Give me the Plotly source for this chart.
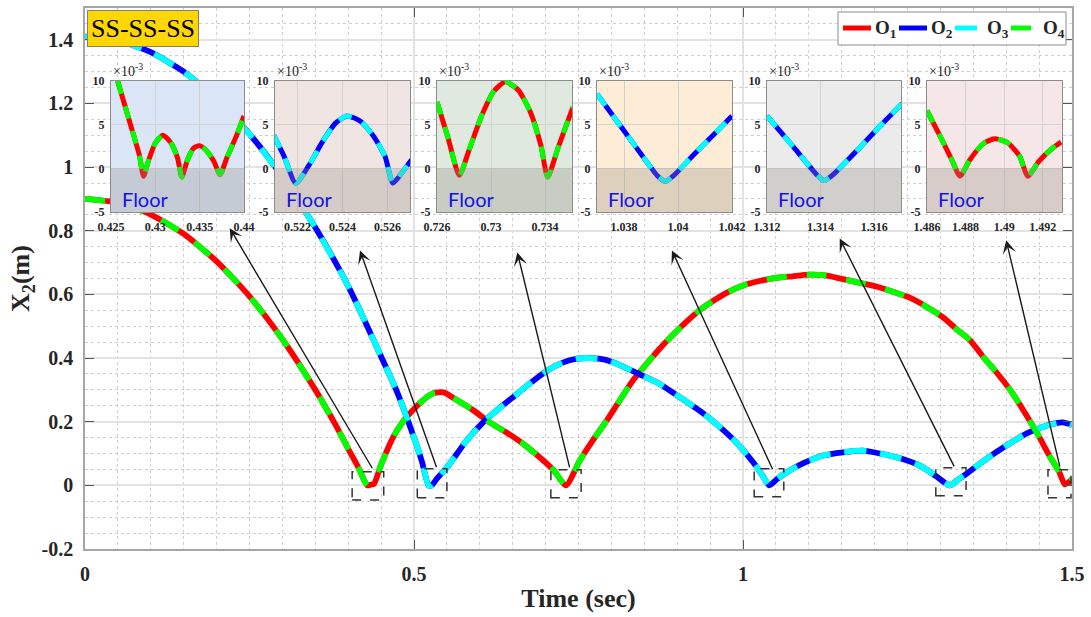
import plotly.graph_objects as go

# ---------------------------------------------------------------------------
# Vertical position X2 (m) of the four objects; O1/O4 move together and
# O2/O3 move together, so each pair shares one trajectory.
# ---------------------------------------------------------------------------
t_o14 = [0.000, 0.050, 0.100, 0.150, 0.200, 0.250, 0.300, 0.350, 0.380, 0.400,
         0.415, 0.429, 0.434, 0.439, 0.450, 0.468, 0.485, 0.500, 0.515, 0.530,
         0.545, 0.565, 0.590, 0.615, 0.640, 0.665, 0.690, 0.712, 0.731, 0.752,
         0.772, 0.793, 0.813, 0.833, 0.854, 0.874, 0.894, 0.915, 0.935, 0.955,
         0.975, 1.000, 1.025, 1.050, 1.075, 1.100, 1.125, 1.150, 1.178, 1.204,
         1.228, 1.254, 1.280, 1.304, 1.325, 1.345, 1.365, 1.386, 1.406, 1.426,
         1.447, 1.467, 1.480, 1.489, 1.495, 1.500]
x2_o14 = [0.900, 0.888, 0.851, 0.790, 0.704, 0.594, 0.459, 0.300, 0.193, 0.115,
          0.058, 0.000, 0.002, 0.004, 0.065, 0.150, 0.205, 0.240, 0.270, 0.290,
          0.292, 0.268, 0.236, 0.198, 0.167, 0.132, 0.090, 0.048, 0.000, 0.078,
          0.142, 0.204, 0.268, 0.330, 0.383, 0.431, 0.474, 0.516, 0.552, 0.580,
          0.605, 0.628, 0.642, 0.652, 0.657, 0.662, 0.660, 0.649, 0.636, 0.624,
          0.608, 0.589, 0.560, 0.528, 0.490, 0.456, 0.404, 0.353, 0.300, 0.236,
          0.164, 0.088, 0.045, 0.003, 0.010, 0.020]

t_o23 = [0.000, 0.050, 0.100, 0.150, 0.200, 0.250, 0.300, 0.350, 0.400, 0.450,
         0.475, 0.500, 0.512, 0.522, 0.527, 0.535, 0.550, 0.580, 0.605, 0.626,
         0.651, 0.676, 0.702, 0.725, 0.748, 0.768, 0.790, 0.813, 0.843, 0.874,
         0.904, 0.935, 0.965, 0.991, 1.016, 1.030, 1.040, 1.052, 1.064, 1.091,
         1.122, 1.152, 1.182, 1.208, 1.239, 1.269, 1.294, 1.314, 1.327, 1.340,
         1.371, 1.401, 1.432, 1.462, 1.486, 1.500]
x2_o23 = [1.410, 1.398, 1.361, 1.300, 1.214, 1.104, 0.969, 0.810, 0.626, 0.405,
          0.290, 0.150, 0.075, 0.000, 0.000, 0.022, 0.056, 0.141, 0.198, 0.236,
          0.278, 0.320, 0.360, 0.385, 0.398, 0.400, 0.395, 0.378, 0.349, 0.318,
          0.277, 0.233, 0.183, 0.132, 0.071, 0.030, 0.000, 0.020, 0.038, 0.069,
          0.094, 0.104, 0.109, 0.100, 0.085, 0.062, 0.028, 0.000, 0.018, 0.037,
          0.085, 0.126, 0.164, 0.188, 0.198, 0.190]

# Close-ups of the contact events (X2 in units of 1e-3 m)
zoom1_t = [0.42575, 0.4272, 0.4282, 0.42867, 0.4292, 0.4300, 0.43085, 0.4317,
           0.4325, 0.43299, 0.4336, 0.4343, 0.43497, 0.4357, 0.4366, 0.4373,
           0.4381, 0.4391, 0.4400]
zoom1_x2 = [10.0, 5.0, 1.5, -0.9, 0.8, 2.9, 3.8, 3.0, 1.2, -1.0, 0.9, 2.3, 2.6,
            2.1, 0.8, -0.7, 1.3, 3.6, 6.0]

zoom2_t = [0.52094, 0.5214, 0.52192, 0.5225, 0.5231, 0.5237, 0.5242, 0.5248,
           0.5254, 0.5259, 0.52624, 0.5267, 0.52707]
zoom2_x2 = [3.8, 1.4, -1.7, 0.3, 3.0, 5.2, 6.0, 5.4, 3.6, 1.3, -1.7, -0.3, 1.0]

zoom3_t = [0.7260, 0.7268, 0.72765, 0.7284, 0.7293, 0.7302, 0.73106, 0.7320,
           0.7329, 0.7337, 0.7342, 0.7350, 0.73607]
zoom3_x2 = [7.6, 3.6, -0.8, 2.2, 6.0, 8.8, 9.9, 9.0, 6.5, 2.6, -1.0, 2.5, 7.0]

zoom4_t = [1.0370, 1.0380, 1.0389, 1.03925, 1.03954, 1.03985, 1.0405, 1.0413,
           1.0420]
zoom4_x2 = [8.5, 4.3, 0.5, -0.9, -1.5, -0.8, 1.3, 3.8, 6.0]

zoom5_t = [1.3120, 1.3130, 1.31388, 1.31413, 1.31444, 1.3155, 1.3163, 1.31704]
zoom5_x2 = [6.0, 2.4, -0.8, -1.4, -0.8, 2.5, 5.1, 7.4]

zoom6_t = [1.4860, 1.4867, 1.4873, 1.48771, 1.4882, 1.4889, 1.48952, 1.4902,
           1.4908, 1.49123, 1.4918, 1.4925, 1.49295]
zoom6_x2 = [6.6, 3.6, 0.9, -0.9, 0.9, 2.8, 3.4, 2.9, 1.4, -0.9, 0.8, 2.3, 3.0]

# Axis ticks
main_xticks = [0, 0.5, 1, 1.5]
main_xlabels = ["0", "0.5", "1", "1.5"]
main_yticks = [-0.2, 0, 0.2, 0.4, 0.6, 0.8, 1.0, 1.2, 1.4]
main_ylabels = ["-0.2", "0", "0.2", "0.4", "0.6", "0.8", "1", "1.2", "1.4"]
zoom_yticks = [-5, 0, 5, 10]
zoom_ylabels = ["-5", "0", "5", "10"]

zoom_ranges = [(0.425, 0.440), (0.521, 0.527), (0.726, 0.736),
               (1.037, 1.042), (1.312, 1.317), (1.486, 1.493)]
zoom_xticks = [[0.425, 0.43, 0.435, 0.44], [0.522, 0.524, 0.526],
               [0.726, 0.73, 0.734], [1.038, 1.04, 1.042],
               [1.312, 1.314, 1.316], [1.486, 1.488, 1.49, 1.492]]
zoom_xlabels = [["0.425", "0.43", "0.435", "0.44"], ["0.522", "0.524", "0.526"],
                ["0.726", "0.73", "0.734"], ["1.038", "1.04", "1.042"],
                ["1.312", "1.314", "1.316"], ["1.486", "1.488", "1.49", "1.492"]]
zoom_series = [(zoom1_t, zoom1_x2, "14"), (zoom2_t, zoom2_x2, "23"),
               (zoom3_t, zoom3_x2, "14"), (zoom4_t, zoom4_x2, "23"),
               (zoom5_t, zoom5_x2, "23"), (zoom6_t, zoom6_x2, "14")]

# ---------------------------------------------------------------------------
# Styling / placement
# ---------------------------------------------------------------------------
RED, BLUE, CYAN, GREEN = "#ff0000", "#0000ff", "#00ffff", "#00ff00"
DASH_O3, DASH_O4 = "22px,14px", "20px,20px"
SERIF = "Liberation Serif"
INK = "#262626"

W, H = 1091, 617
M_L, M_R, M_T, M_B = 85, 19, 8, 68
PLOT_W, PLOT_H = W - M_L - M_R, H - M_T - M_B


def px_to_paper(px, py):
    return (px - M_L) / PLOT_W, (H - M_B - py) / PLOT_H


inset_bg = ["#dae6f6", "#f1e5e4", "#dfe9df", "#fdedd6", "#ebebeb", "#f5e7e7"]
inset_px_x = [(111, 244), (275, 410), (437, 572), (597, 732), (767, 901), (927, 1062)]
inset_px_y = (81, 212)

# dashed frames around contact events: (t0, t1, y0, y1)
event_frames = [(0.406, 0.454, -0.046, 0.043), (0.505, 0.550, -0.039, 0.052),
                (0.708, 0.754, -0.039, 0.049), (1.017, 1.062, -0.036, 0.052),
                (1.293, 1.339, -0.033, 0.055), (1.4635, 1.4985, -0.039, 0.049)]
# arrows: (head t, head y, tail t, tail y)
event_arrows = [(0.220, 0.808, 0.438, 0.049), (0.418, 0.738, 0.535, 0.052),
                (0.657, 0.732, 0.737, 0.052), (0.892, 0.738, 1.046, 0.046),
                (1.147, 0.776, 1.322, 0.055), (1.400, 0.770, 1.482, 0.055)]

fig = go.Figure()

spline = dict(shape="spline", smoothing=0.6)
legend_items = [("O<sub>1</sub>", RED, "solid"), ("O<sub>2</sub>", BLUE, "solid"),
                ("O<sub>3</sub>", CYAN, DASH_O3), ("O<sub>4</sub>", GREEN, DASH_O4)]
main_data = [(t_o14, x2_o14), (t_o23, x2_o23), (t_o23, x2_o23), (t_o14, x2_o14)]
for (name, color, dash), (ts, xs) in zip(legend_items, main_data):
    fig.add_trace(go.Scatter(x=ts, y=xs, mode="lines", name=name, showlegend=False,
                             line=dict(color=color, width=5.8, dash=dash, **spline)))

shapes = []
annotations = []
layout_axes = {}

for i, (ts, xs, pair) in enumerate(zoom_series):
    k = i + 2
    xa, ya = f"x{k}", f"y{k}"
    if pair == "14":
        base, over, dash = RED, GREEN, "13px,13px"
    else:
        base, over, dash = BLUE, CYAN, "14px,12px"
    fig.add_trace(go.Scatter(x=ts, y=xs, mode="lines", showlegend=False,
                             xaxis=xa, yaxis=ya,
                             line=dict(color=base, width=5, **spline)))
    fig.add_trace(go.Scatter(x=ts, y=xs, mode="lines", showlegend=False,
                             xaxis=xa, yaxis=ya,
                             line=dict(color=over, width=5, dash=dash, **spline)))
    r0, r1 = zoom_ranges[i]
    dx0, dy0 = px_to_paper(inset_px_x[i][0], inset_px_y[1])
    dx1, dy1 = px_to_paper(inset_px_x[i][1], inset_px_y[0])
    common = dict(showgrid=True, gridcolor="#d2d2d2", gridwidth=1, zeroline=False,
                  showline=True, mirror=True, linecolor="#8c8c8c", linewidth=1.3,
                  ticks="", ticklabelstandoff=3, fixedrange=True,
                  tickfont=dict(family=SERIF, size=12, color=INK, weight="bold"))
    layout_axes[f"xaxis{k}"] = dict(
        domain=[dx0, dx1], range=[r0, r1], anchor=ya,
        tickmode="array", tickvals=zoom_xticks[i], ticktext=zoom_xlabels[i], **common)
    layout_axes[f"yaxis{k}"] = dict(
        domain=[dy0, dy1], range=[-5, 10], anchor=xa,
        tickmode="array", tickvals=zoom_yticks, ticktext=zoom_ylabels, **common)
    # tinted panel
    shapes.append(dict(type="rect", xref=xa, yref=ya, x0=r0, x1=r1, y0=-5, y1=10,
                       fillcolor=inset_bg[i], line=dict(width=0), layer="below"))
    # floor region
    shapes.append(dict(type="rect", xref=xa, yref=ya, x0=r0, x1=r1, y0=-5, y1=0,
                       fillcolor="rgba(150,142,134,0.30)", line=dict(width=0),
                       layer="above"))
    annotations.append(dict(xref=f"{xa} domain", yref=ya, x=0.07, y=-3.5,
                            xanchor="left", yanchor="middle", showarrow=False,
                            text="Floor",
                            font=dict(family="Lato", size=20, color="#1212e6")))
    annotations.append(dict(xref=f"{xa} domain", yref=f"{ya} domain", x=0.0, y=1.0,
                            xanchor="left", yanchor="bottom", showarrow=False,
                            text="\u00d710<sup>-3</sup>",
                            font=dict(family=SERIF, size=14, color=INK)))

for (t0, t1, y0, y1) in event_frames:
    shapes.append(dict(type="rect", xref="x", yref="y", x0=t0, x1=t1, y0=y0, y1=y1,
                       line=dict(color="#333333", width=1.5, dash="dash"),
                       fillcolor="rgba(0,0,0,0)", layer="above"))

for (hx, hy, tx, ty) in event_arrows:
    annotations.append(dict(x=hx, y=hy, ax=tx, ay=ty, xref="x", yref="y",
                            axref="x", ayref="y", text="", showarrow=True,
                            arrowhead=3, arrowsize=1.6, arrowwidth=1.4,
                            arrowcolor="#1a1a1a"))

# legend box (top right)
lx0, ly0 = px_to_paper(838, 45)
lx1, ly1 = px_to_paper(1066, 12)
shapes.append(dict(type="rect", xref="paper", yref="paper", x0=lx0, x1=lx1,
                   y0=ly0, y1=ly1, fillcolor="white",
                   line=dict(color="#8c8c8c", width=1), layer="above"))
for j, (name, color, dash) in enumerate(legend_items):
    sx0, sy = px_to_paper(843 + 56 * j, 28)
    sx1, _ = px_to_paper(843 + 56 * j + 28, 28)
    shapes.append(dict(type="line", xref="paper", yref="paper", x0=sx0, x1=sx1,
                       y0=sy, y1=sy, layer="above",
                       line=dict(color=color, width=5, dash=dash)))
    tx, ty = px_to_paper(843 + 56 * j + 30, 29)
    annotations.append(dict(xref="paper", yref="paper", x=tx, y=ty,
                            xanchor="left", yanchor="middle", showarrow=False,
                            text=name,
                            font=dict(family=SERIF, size=19, color=INK, weight="bold")))

bx, by = px_to_paper(87, 10)
annotations.append(dict(xref="paper", yref="paper", x=bx, y=by,
                        xanchor="left", yanchor="top", showarrow=False,
                        text="SS-SS-SS", bgcolor="#ffd700",
                        bordercolor="#7f7f7f", borderwidth=1, borderpad=3,
                        font=dict(family=SERIF, size=26, color="#000000")))

axis_font = dict(family=SERIF, size=20, color=INK, weight="bold")
title_font = dict(family=SERIF, size=26, color=INK, weight="bold")
grid_common = dict(showgrid=True, gridcolor="#e2e2e2", gridwidth=1.5, zeroline=False,
                   minor=dict(dtick=0.05, tick0=0, showgrid=True, gridcolor="#cfcfcf",
                              griddash="dot", gridwidth=1),
                   showline=True, mirror="ticks", linecolor="#a6a6a6", linewidth=1.5,
                   ticks="inside", ticklen=9, tickcolor="#555555",
                   ticklabelstandoff=6, fixedrange=True, tickfont=axis_font)
fig.update_layout(
    width=W, height=H,
    margin=dict(l=M_L, r=M_R, t=M_T, b=M_B, autoexpand=False),
    paper_bgcolor="white", plot_bgcolor="white",
    font=dict(family=SERIF, color=INK),
    xaxis=dict(range=[0, 1.5], tickmode="array", tickvals=main_xticks,
               ticktext=main_xlabels,
               title=dict(text="Time (sec)", standoff=5, font=title_font),
               **grid_common),
    yaxis=dict(range=[-0.2, 1.5], tickmode="array", tickvals=main_yticks,
               ticktext=main_ylabels,
               title=dict(text="X<sub>2</sub>(m)", standoff=4, font=title_font),
               **grid_common),
    shapes=shapes,
    annotations=annotations,
    showlegend=False,
    **layout_axes,
)

fig.write_html("out.html")
